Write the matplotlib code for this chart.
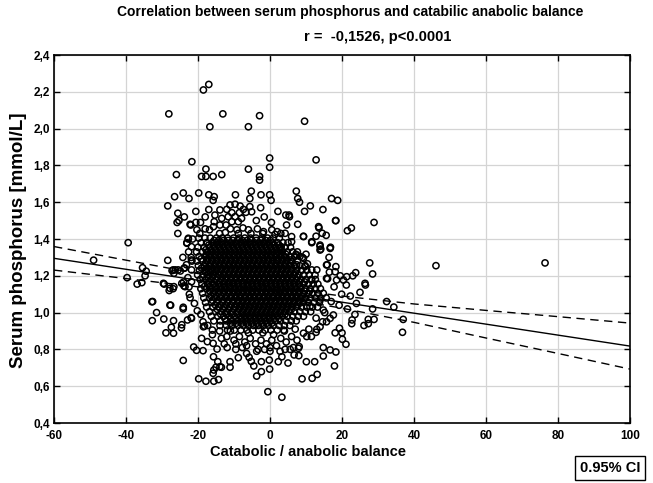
import numpy as np
import matplotlib
matplotlib.use('Agg')
import matplotlib.pyplot as plt

plt.rcParams['font.family'] = ['Liberation Sans', 'DejaVu Sans']

### Data ###
# scattered points outside the dense centre (x = catabolic/anabolic balance, y = serum P)
sparse_points = [
    (-17.0, 2.24), (-18.5, 2.21), (-28.1, 2.08), (-13.1, 2.08), (-2.9, 2.07), (-16.7, 2.01), (-6.0, 2.01),
    (9.6, 2.04), (12.8, 1.83), (-21.7, 1.82), (-0.1, 1.84), (-0.1, 1.79), (-6.0, 1.78), (-17.8, 1.78),
    (-26.0, 1.75), (-19.0, 1.74), (-17.8, 1.74), (-15.8, 1.74), (-13.4, 1.75), (-2.9, 1.74), (-2.9, 1.72),
    (-24.1, 1.65), (-26.5, 1.63), (-22.5, 1.62), (-19.8, 1.65), (-17.0, 1.64), (-15.5, 1.63), (-15.8, 1.61),
    (-9.6, 1.64), (-5.2, 1.66), (-5.6, 1.62), (-2.5, 1.64), (-0.1, 1.64), (0.3, 1.61), (7.3, 1.66),
    (7.7, 1.62), (8.2, 1.60), (-28.4, 1.58), (-25.6, 1.54), (-20.6, 1.55), (5.3, 1.53),
    (17.1, 1.62), (18.8, 1.61), (11.2, 1.58), (9.6, 1.55), (14.7, 1.56), (18.3, 1.50), (28.9, 1.49),
    (21.5, 1.445), (22.6, 1.46), (7.7, 1.48), (13.6, 1.46), (9.3, 1.415), (12.8, 1.415), (15.6, 1.42),
    (11.6, 1.38), (13.9, 1.36), (14.1, 1.345), (16.8, 1.355), (16.4, 1.30), (7.2, 1.317), (10.0, 1.317),
    (9.0, 1.30), (10.4, 1.265), (7.4, 1.26), (15.9, 1.26), (18.3, 1.25), (27.7, 1.27), (46.1, 1.255),
    (76.4, 1.27), (28.5, 1.21), (26.5, 1.15), (32.4, 1.06), (34.4, 1.03), (28.5, 1.02), (27.3, 0.963),
    (28.9, 0.963), (26.1, 0.93), (27.3, 0.94), (37.0, 0.963), (36.8, 0.893),
    (-39.4, 1.38), (-49.0, 1.285), (-35.4, 1.244), (-34.4, 1.225), (-34.7, 1.20), (-39.7, 1.19),
    (-36.9, 1.155), (-35.6, 1.163), (-28.4, 1.284), (-25.8, 1.49), (-25.3, 1.50), (-25.6, 1.43),
    (-22.2, 1.48), (-23.1, 1.38), (-22.7, 1.40), (-21.5, 1.40), (-24.2, 1.30), (-21.9, 1.30), (-21.7, 1.28),
    (-27.2, 1.228), (-26.3, 1.232), (-24.9, 1.226), (-23.7, 1.242), (-29.4, 1.155), (-28.0, 1.12),
    (-26.9, 1.13), (-24.0, 1.166), (-22.5, 1.14), (-23.9, 1.145), (-32.6, 1.06), (-31.5, 1.0),
    (-27.6, 1.04), (-32.7, 0.956), (-29.5, 0.965), (-26.8, 0.956), (-24.1, 1.02), (-22.9, 0.96),
    (-21.9, 0.972), (-27.4, 0.92), (-28.9, 0.89), (-26.8, 0.888), (-24.5, 0.934), (-24.6, 0.917),
    (-21.2, 0.813), (-20.4, 0.795), (-18.6, 0.793), (-24.1, 0.74),
    (-19.8, 0.64), (-17.8, 0.627), (-15.6, 0.627), (-14.3, 0.636), (-15.8, 0.67), (-15.6, 0.688),
    (-15.0, 0.703), (-14.5, 0.733), (-13.5, 0.703), (-11.1, 0.733), (-11.1, 0.703), (-13.9, 0.706),
    (-18.2, 0.927), (-19.0, 0.86), (-17.4, 0.842), (-15.8, 0.833), (-14.7, 0.802), (-11.9, 0.81),
    (-9.5, 0.80), (-7.7, 0.81), (-8.8, 0.755), (-5.8, 0.757), (-5.2, 0.735), (-4.5, 0.71), (-6.5, 0.778),
    (-2.4, 0.733), (-2.4, 0.679), (-3.7, 0.655), (-0.1, 0.693), (-0.2, 0.742), (-0.6, 0.57), (3.3, 0.54),
    (2.3, 0.733), (3.3, 0.76), (5.0, 0.726), (8.9, 0.64), (11.7, 0.643), (13.1, 0.664), (10.1, 0.733),
    (12.4, 0.733), (17.9, 0.71), (14.8, 0.81), (16.7, 0.797), (18.3, 0.786), (14.8, 0.764), (20.1, 0.855),
    (21.1, 0.828), (20.0, 0.89), (18.1, 0.89), (19.3, 0.915), (22.7, 0.94), (22.8, 0.96), (12.8, 0.893),
    (13.0, 0.909), (13.9, 0.923), (10.2, 0.87), (9.3, 0.888), (15.7, 0.95), (16.7, 0.969), (7.9, 0.806),
    (6.7, 0.77), (8.0, 0.766), (-3.7, 0.79), (-3.3, 0.80), (0.0, 0.79), (2.8, 0.79), (4.2, 0.80),
    (5.6, 0.80), (6.5, 0.81), (8.1, 0.815), (-18.5, 0.923), (-15.7, 0.76),
    (-16.0, 0.88), (-13.5, 0.86), (-12.0, 0.87), (-10.0, 0.85), (-8.5, 0.87), (-7.0, 0.84), (-5.5, 0.86),
    (-4.0, 0.83), (-2.5, 0.85), (-1.0, 0.83), (0.5, 0.85), (1.8, 0.82), (3.0, 0.86), (4.5, 0.84),
    (6.0, 0.87), (7.5, 0.85), (-14.0, 0.90), (-11.0, 0.90), (-6.0, 0.89), (-2.0, 0.89), (1.0, 0.88),
    (4.0, 0.90), (7.0, 0.91), (10.8, 0.91), (11.5, 0.87), (0.0, 0.81), (-1.5, 0.80), (-9.5, 0.83),
    (-12.7, 0.83), (-6.5, 0.82),
    (-12.0, 1.561), (-11.1, 1.585), (-9.7, 1.589), (-8.3, 1.579), (-7.4, 1.561), (-6.7, 1.545),
    (-8.5, 1.543), (-10.6, 1.543), (-11.6, 1.521), (-9.7, 1.521), (-7.9, 1.512), (-8.8, 1.494),
    (-10.6, 1.494), (-13.9, 1.558), (-15.3, 1.53), (-5.6, 1.576), (-5.1, 1.548), (-13.4, 1.512),
    (-15.5, 1.494), (-15.7, 1.467), (-13.9, 1.476), (-12.2, 1.476), (-22.0, 1.476), (-20.6, 1.49),
    (-19.3, 1.49), (-20.3, 1.45),
    (4.4, 1.53), (5.4, 1.521), (4.6, 1.476), (4.2, 1.431), (6.0, 1.413), (6.0, 1.385), (9.3, 1.413),
    (11.6, 1.385), (13.9, 1.367), (13.9, 1.34), (16.7, 1.349), (15.7, 1.259), (13.5, 1.467), (14.5, 1.431),
    (18.2, 1.50), (3.1, 1.358), (2.8, 1.349), (1.9, 1.286), (5.6, 1.286), (7.4, 1.313), (9.3, 1.295),
    (9.7, 1.25), (11.6, 1.232), (13.0, 1.232), (15.7, 1.186), (18.1, 1.222),
    (-26.9, 1.232), (-26.7, 1.214), (-25.5, 1.232), (-23.9, 1.241), (-21.8, 1.232), (-29.6, 1.159),
    (-27.8, 1.132), (-26.7, 1.141), (-24.5, 1.159), (-23.6, 1.141), (-21.8, 1.168), (-32.8, 1.059),
    (-27.8, 1.041), (-24.1, 1.029), (-22.2, 1.081), (-21.8, 0.969), (-21.8, 1.286), (-22.7, 1.404),
    (-23.1, 1.377), (-21.8, 1.358),
    (26.4, 1.159), (23.8, 1.217), (21.3, 1.195), (16.0, 1.184), (18.5, 1.177), (20.4, 1.177),
    (12.5, 1.204), (11.6, 1.177), (14.8, 1.014), (17.6, 0.987), (13.9, 1.068), (11.1, 1.032),
    (16.5, 1.22), (19.5, 1.20), (21.2, 1.15), (17.8, 1.14), (19.9, 1.10), (22.3, 1.09), (17.0, 1.06),
    (19.2, 1.04), (21.5, 1.02), (24.0, 1.05), (15.2, 1.00), (12.8, 0.97), (14.6, 0.95), (23.6, 0.99),
    (25.0, 1.11), (23.0, 1.20),
    (-22.6, 1.33), (-23.2, 1.26), (-22.8, 1.19), (-22.4, 1.10), (-21.0, 1.05), (-20.2, 1.01),
    (-19.2, 0.99), (-18.6, 0.95), (-17.3, 0.93), (-16.0, 0.905),
    (-18.0, 1.455), (-16.8, 1.45), (-11.0, 1.455), (-9.2, 1.45), (-7.5, 1.46), (-6.0, 1.45), (-3.5, 1.455),
    (-1.8, 1.44), (0.5, 1.45), (2.0, 1.44), (-19.5, 1.43), (-14.0, 1.43), (-12.4, 1.435), (-8.8, 1.43),
    (-5.3, 1.43), (-2.0, 1.43), (1.4, 1.425), (3.0, 1.43), (-3.8, 1.50), (-1.6, 1.52), (0.4, 1.49),
    (2.2, 1.55), (-2.6, 1.57), (-18.0, 1.52), (-17.0, 1.56), (-23.8, 1.52),
]

# dense centre of the cloud, one row of x values per serum P level
core_rows = [
    (1.405, [-19.8, -18.1, -16.6, -14.9, -13.3, -11.8, -10.1, -8.6, -7.0, -5.4, -3.9, -2.2, -0.7, 0.9, 2.6]),
    (1.380, [-19.1, -17.6, -16.1, -14.8, -13.5, -12.2, -10.9, -9.6, -8.3, -7.0, -5.7, -4.4, -3.1, -1.8, -0.5,
             0.8, 2.1, 3.6, 5.0]),
    (1.355, [-20.0, -18.3, -16.8, -15.4, -14.1, -12.8, -11.5, -10.2, -8.9, -7.6, -6.3, -5.0, -3.7, -2.4, -1.1,
             0.2, 1.5, 2.8, 4.2, 5.7]),
    (1.330, [-20.4, -18.8, -17.4, -16.1, -14.8, -13.5, -12.2, -10.9, -9.6, -8.3, -7.0, -5.7, -4.4, -3.1, -1.8,
             -0.5, 0.8, 2.1, 3.4, 4.8, 6.3, 7.6]),
    (1.305, [-19.7, -18.0, -16.7, -15.4, -14.1, -12.8, -11.5, -10.2, -8.9, -7.6, -6.3, -5.0, -3.7, -2.4, -1.1,
             0.2, 1.5, 2.8, 4.1, 5.5, 6.9, 8.3]),
    (1.280, [-20.3, -18.7, -17.4, -16.1, -14.8, -13.5, -12.2, -10.9, -9.6, -8.3, -7.0, -5.7, -4.4, -3.1, -1.8,
             -0.5, 0.8, 2.1, 3.4, 4.7, 6.1, 7.6]),
    (1.255, [-19.9, -18.2, -16.8, -15.4, -14.1, -12.8, -11.5, -10.2, -8.9, -7.6, -6.3, -5.0, -3.7, -2.4, -1.1,
             0.2, 1.5, 2.8, 4.1, 5.4, 6.8, 8.3, 9.8]),
    (1.230, [-19.6, -18.3, -17.0, -15.9, -14.8, -13.5, -12.2, -10.9, -9.6, -8.3, -7.0, -5.7, -4.4, -3.1, -1.8,
             -0.5, 0.8, 2.1, 3.4, 4.7, 6.0, 7.4, 8.8, 10.2]),
    (1.205, [-20.1, -18.6, -17.2, -15.8, -14.2, -12.8, -11.5, -10.2, -8.9, -7.6, -6.3, -5.0, -3.7, -2.4, -1.1,
             0.2, 1.5, 2.8, 4.1, 5.4, 6.7, 8.0, 9.4, 10.9]),
    (1.180, [-19.4, -17.9, -16.4, -15.0, -13.6, -12.2, -10.9, -9.6, -8.3, -7.0, -5.7, -4.4, -3.1, -1.8, -0.5,
             0.8, 2.1, 3.4, 4.7, 6.0, 7.3, 8.6, 10.0, 11.4, 12.6]),
    (1.155, [-18.9, -17.3, -15.8, -14.3, -12.8, -11.5, -10.2, -8.9, -7.6, -6.3, -5.0, -3.7, -2.4, -1.1, 0.2,
             1.5, 2.8, 4.1, 5.4, 6.7, 8.0, 9.3, 10.6, 12.0, 13.3]),
    (1.130, [-19.2, -17.6, -16.1, -14.8, -13.5, -12.2, -10.9, -9.6, -8.3, -7.0, -5.7, -4.4, -3.1, -1.8, -0.5,
             0.8, 2.1, 3.4, 4.7, 6.0, 7.3, 8.6, 9.9, 11.2, 12.6, 14.0]),
    (1.105, [-18.7, -17.1, -15.6, -14.2, -12.8, -11.5, -10.2, -8.9, -7.6, -6.3, -5.0, -3.7, -2.4, -1.1, 0.2,
             1.5, 2.8, 4.1, 5.4, 6.7, 8.0, 9.3, 10.6, 11.9, 13.3, 14.8]),
    (1.080, [-18.4, -16.8, -15.3, -13.9, -12.4, -11.0, -9.6, -8.3, -7.0, -5.7, -4.4, -3.1, -1.8, -0.5, 0.8,
             2.1, 3.4, 4.7, 6.0, 7.3, 8.6, 9.9, 11.2, 12.6, 14.1, 15.6]),
    (1.055, [-17.9, -16.2, -14.7, -13.2, -11.8, -10.3, -8.9, -7.6, -6.3, -5.0, -3.7, -2.4, -1.1, 0.2, 1.5,
             2.8, 4.1, 5.4, 6.7, 8.0, 9.3, 10.7, 12.2, 13.7]),
    (1.030, [-17.6, -15.9, -14.3, -12.8, -11.3, -9.8, -8.4, -7.0, -5.7, -4.4, -3.1, -1.8, -0.5, 0.8, 2.1,
             3.4, 4.7, 6.0, 7.3, 8.7, 10.2, 11.8, 13.2]),
    (1.005, [-16.8, -15.1, -13.5, -12.0, -10.5, -9.0, -7.6, -6.3, -5.0, -3.7, -2.4, -1.1, 0.2, 1.5, 2.8,
             4.1, 5.4, 6.8, 8.3, 9.8, 11.3]),
    (0.980, [-16.3, -14.5, -12.9, -11.3, -9.8, -8.3, -7.0, -5.7, -4.4, -3.1, -1.8, -0.5, 0.8, 2.1, 3.4,
             4.8, 6.3, 7.8, 9.3]),
    (0.955, [-15.6, -13.8, -12.1, -10.6, -9.0, -7.6, -6.3, -5.0, -3.7, -2.4, -1.1, 0.2, 1.5, 2.9, 4.4, 5.9, 7.3]),
    (0.930, [-13.9, -12.1, -10.5, -8.9, -7.4, -6.0, -4.6, -3.2, -1.8, -0.4, 1.0, 2.5, 4.0, 5.5]),
    (0.905, [-11.8, -9.9, -8.1, -6.4, -4.8, -3.1, -1.4, 0.3, 2.0, 3.8]),
]

# further points packed between the rows above, where the cloud is solid black
core_fill_rows = [
    (1.392, [-15.5, -14.2, -12.9, -11.6, -10.3, -9.0, -7.7, -6.4, -5.1, -3.8, -2.5, -1.2, 0.1]),
    (1.367, [-17.0, -15.7, -14.4, -13.1, -11.8, -10.5, -9.2, -7.9, -6.6, -5.3, -4.0, -2.7, -1.4, -0.1,
             1.2, 2.5]),
    (1.342, [-17.8, -16.4, -15.1, -13.8, -12.5, -11.2, -9.9, -8.6, -7.3, -6.0, -4.7, -3.4, -2.1, -0.8,
             0.5, 1.8, 3.1]),
    (1.317, [-17.7, -16.4, -15.1, -13.8, -12.5, -11.2, -9.9, -8.6, -7.3, -6.0, -4.7, -3.4, -2.1, -0.8,
             0.5, 1.8, 3.1, 4.4]),
    (1.292, [-19.1, -17.5, -16.2, -14.9, -13.6, -12.3, -11.0, -9.7, -8.4, -7.1, -5.8, -4.5, -3.2, -1.9, -0.6,
             0.7, 2.0, 3.3, 4.6]),
    (1.267, [-17.9, -16.5, -15.2, -13.9, -12.6, -11.3, -10.0, -8.7, -7.4, -6.1, -4.8, -3.5, -2.2, -0.9,
             0.4, 1.7, 3.0, 4.3, 5.7]),
    (1.242, [-19.0, -17.6, -16.3, -15.0, -13.7, -12.4, -11.1, -9.8, -8.5, -7.2, -5.9, -4.6, -3.3, -2.0, -0.7,
             0.6, 1.9, 3.2, 4.5, 5.8, 7.2]),
    (1.217, [-17.8, -16.5, -15.2, -13.9, -12.6, -11.3, -10.0, -8.7, -7.4, -6.1, -4.8, -3.5, -2.2, -0.9,
             0.4, 1.7, 3.0, 4.3, 5.6, 7.0]),
    (1.192, [-18.7, -17.2, -15.9, -14.6, -13.3, -12.0, -10.7, -9.4, -8.1, -6.8, -5.5, -4.2, -2.9, -1.6, -0.3,
             1.0, 2.3, 3.6, 4.9, 6.2, 7.6]),
    (1.167, [-17.0, -15.6, -14.0, -12.7, -11.4, -10.1, -8.8, -7.5, -6.2, -4.9, -3.6, -2.3, -1.0, 0.3,
             1.6, 2.9, 4.2, 5.5, 6.8, 8.2, 9.6]),
    (1.142, [-18.2, -16.8, -15.2, -13.9, -12.6, -11.3, -10.0, -8.7, -7.4, -6.1, -4.8, -3.5, -2.2, -0.9, 0.4,
             1.7, 3.0, 4.3, 5.6, 6.9, 8.3]),
    (1.117, [-16.7, -15.3, -13.9, -12.6, -11.3, -10.0, -8.7, -7.4, -6.1, -4.8, -3.5, -2.2, -0.9, 0.4,
             1.7, 3.0, 4.3, 5.6, 6.9, 8.2, 9.6, 11.0]),
    (1.092, [-16.4, -15.0, -13.6, -12.2, -10.8, -9.5, -8.2, -6.9, -5.6, -4.3, -3.0, -1.7, -0.4, 0.9,
             2.2, 3.5, 4.8, 6.1, 7.4, 8.8]),
    (1.067, [-16.0, -14.5, -13.1, -11.7, -10.3, -9.0, -7.7, -6.4, -5.1, -3.8, -2.5, -1.2, 0.1, 1.4,
             2.7, 4.0, 5.3, 6.6, 7.9, 9.3]),
    (1.042, [-15.2, -13.7, -12.2, -10.8, -9.4, -8.0, -6.7, -5.4, -4.1, -2.8, -1.5, -0.2, 1.1, 2.4,
             3.7, 5.0, 6.4, 7.8]),
    (1.017, [-14.6, -13.0, -11.5, -10.0, -8.6, -7.3, -6.0, -4.7, -3.4, -2.1, -0.8, 0.5, 1.8, 3.1,
             4.5, 5.9]),
    (0.992, [-13.7, -12.1, -10.6, -9.1, -7.7, -6.4, -5.1, -3.8, -2.5, -1.2, 0.1, 1.4, 2.8, 4.2]),
    (0.967, [-12.5, -10.9, -9.4, -8.0, -6.7, -5.4, -4.1, -2.8, -1.5, -0.2, 1.1, 2.5]),
    (0.942, [-11.0, -9.4, -7.9, -6.5, -5.1, -3.7, -2.3, -0.9, 0.5]),
]

# regression line and 0.95 confidence band
line_x = [-60, 100]
line_y = [1.295, 0.818]
band_x = [-60, -40, -20, 0, 20, 40, 60, 80, 100]
band_upper = [1.359, 1.285, 1.212, 1.142, 1.090, 1.047, 1.012, 0.978, 0.943]
band_lower = [1.231, 1.185, 1.140, 1.090, 1.024, 0.947, 0.862, 0.778, 0.693]

x_ticks = [-60, -40, -20, 0, 20, 40, 60, 80, 100]
y_ticks = [0.4, 0.6, 0.8, 1.0, 1.2, 1.4, 1.6, 1.8, 2.0, 2.2, 2.4]
y_tick_labels = ['0,4', '0,6', '0,8', '1,0', '1,2', '1,4', '1,6', '1,8', '2,0', '2,2', '2,4']

### Build point arrays ###
px = [p[0] for p in sparse_points]
py = [p[1] for p in sparse_points]
for yv, xs in core_rows + core_fill_rows:
    px += xs
    py += [yv] * len(xs)

### Plot ###
fig = plt.figure(figsize=(6.53, 4.83), dpi=100)
ax = fig.add_axes([54/653, 1 - 423/483, 576/653, 368/483])

ax.scatter(px, py, s=20, facecolors='none', edgecolors='black', linewidths=1.1, zorder=2)
ax.plot(line_x, line_y, color='black', lw=1.0, zorder=3)
ax.plot(band_x, band_upper, color='black', lw=1.0, dashes=(6, 4), zorder=3)
ax.plot(band_x, band_lower, color='black', lw=1.0, dashes=(6, 4), zorder=3)

ax.set_xlim(-60, 100)
ax.set_ylim(0.4, 2.4)
ax.set_xticks(x_ticks)
ax.set_xticklabels([str(t) for t in x_ticks])
ax.set_yticks(y_ticks)
ax.set_yticklabels(y_tick_labels)
ax.grid(True, color='#d4d4d4', lw=0.9, zorder=0)
ax.set_axisbelow(True)

ax.tick_params(axis='both', labelsize=8.5, width=1, length=4, direction='in',
               top=True, right=True)
ax.tick_params(axis='x', pad=5)
ax.tick_params(axis='y', pad=3)
for lab in ax.get_xticklabels() + ax.get_yticklabels():
    lab.set_fontweight('bold')
for sp in ax.spines.values():
    sp.set_linewidth(1.2)

### Texts ###
fig.text(0.536, 0.975, 'Correlation between serum phosphorus and catabilic anabolic balance',
         ha='center', va='center', fontsize=10, fontweight='bold')
fig.text(0.578, 0.923, 'r =  -0,1526, p<0.0001', ha='center', va='center', fontsize=10.5, fontweight='bold')
fig.text(0.028, 0.503, 'Serum phosphorus [mmol/L]', rotation=90, ha='center', va='center',
         fontsize=13.5, fontweight='bold')
fig.text(0.472, 0.064, 'Catabolic / anabolic balance', ha='center', va='center',
         fontsize=10.5, fontweight='bold')
fig.text(0.934, 0.031, '0.95% CI', ha='center', va='center', fontsize=10.5, fontweight='bold',
         bbox=dict(boxstyle='square,pad=0.35', fc='white', ec='black', lw=1.0))

fig.savefig('out.png', dpi=100)
